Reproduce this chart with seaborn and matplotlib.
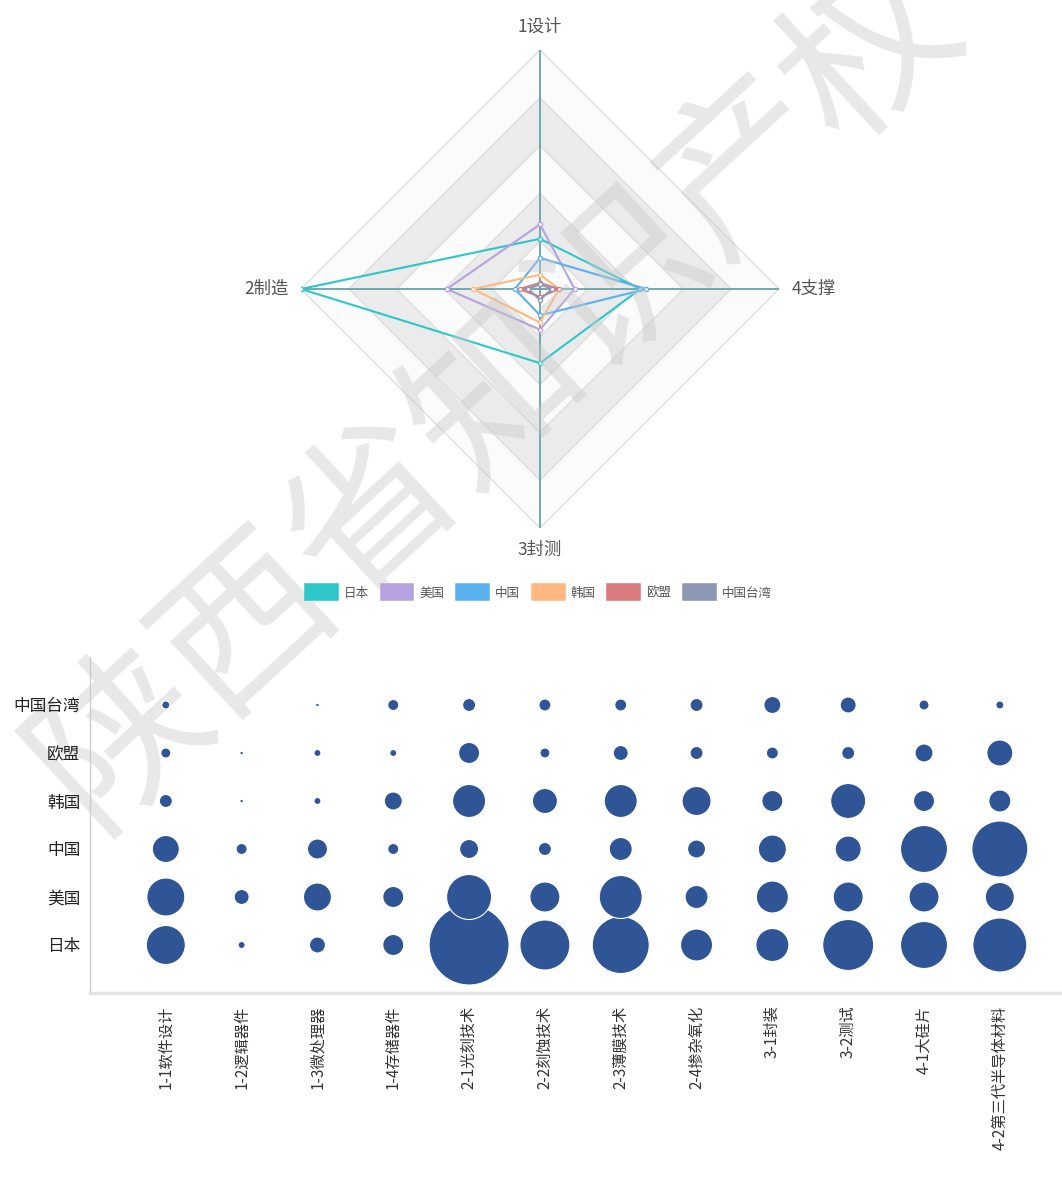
import numpy as np
import pandas as pd
import matplotlib
matplotlib.use("Agg")
import matplotlib.pyplot as plt
from matplotlib.patches import Patch
import seaborn as sns

sns.set_theme(style="white")
plt.rcParams['font.family'] = ['Noto Sans CJK SC', 'DejaVu Sans']

# 雷达图数据 (1设计, 2制造, 3封测, 4支撑)
dims = ["1设计", "2制造", "3封测", "4支撑"]
regions = ["日本", "美国", "中国", "韩国", "欧盟", "中国台湾"]
colors = ["#2ec7c9", "#b6a2de", "#5ab1ef", "#ffb980", "#d87a80", "#8d98b3"]
radar_max = 100
jp = [21, 100, 31, 42]
us = [27, 39, 17, 14.5]
cn = [13, 10.5, 11, 44.5]
kr = [6, 28, 14, 8]
eu = [2.5, 8.5, 3.3, 8]
tw = [2, 5, 4.5, 5]
radar_rows = [jp, us, cn, kr, eu, tw]

# 气泡图数据 (气泡直径)
techs = ["1-1软件设计", "1-2逻辑器件", "1-3微处理器", "1-4存储器件", "2-1光刻技术", "2-2刻蚀技术",
         "2-3薄膜技术", "2-4掺杂氧化", "3-1封装", "3-2测试", "4-1大硅片", "4-2第三代半导体材料"]
jp_b = [39, 7, 16, 21, 80, 50, 57, 32, 33, 51, 47, 54]
us_b = [38, 15, 28, 21, 45, 30, 43, 23, 32, 30, 30, 29]
cn_b = [27, 11, 20, 11, 19, 13, 23, 18, 28, 26, 47, 56]
kr_b = [13, 3.5, 7, 18, 33, 25, 33, 29, 21, 35, 21, 22]
eu_b = [10, 3.5, 7, 7, 21, 10, 15, 13, 12, 13, 18, 26]
tw_b = [8, 0, 3.5, 11, 13, 12, 12, 13, 17, 16, 10, 8]
bubble_rows = [jp_b, us_b, cn_b, kr_b, eu_b, tw_b]

fig = plt.figure(figsize=(10.62, 11.78), dpi=100)

# ---- 雷达图 ----
ax = fig.add_axes([301/1062, 1-528/1178, 478/1062, 478/1178], projection='polar')
ax.set_theta_offset(np.pi/2)
angles = np.linspace(0, 2*np.pi, len(dims), endpoint=False)
ang_c = np.append(angles, angles[0])

levels = [100, 80, 60, 40, 20]
band_col = ['#fbfbfb', '#ebebeb', '#fbfbfb', '#ebebeb', '#fbfbfb']
for lev, bc in zip(levels, band_col):
    ax.fill(ang_c, [lev]*5, color=bc, zorder=1, lw=0)
    ax.plot(ang_c, [lev]*5, color='#dcdcdc', lw=0.9, zorder=1.5)
for a in angles:
    ax.plot([a, a], [0, radar_max], color='#66a3ab', lw=1.3, zorder=2)

for vals, c in zip(radar_rows, colors):
    v = np.append(vals, vals[0])
    ax.plot(ang_c, v, color=c, lw=1.5, marker='o', ms=3, mfc='white', mec=c, mew=0.9, zorder=3)

ax.set_ylim(0, radar_max)
ax.set_yticks([])
ax.set_xticks([])
ax.grid(False)
ax.spines['polar'].set_visible(False)
ax.set_facecolor('none')

offs = [((0, 10), 'center', 'bottom'), ((-9, 0), 'right', 'center'),
        ((0, -9), 'center', 'top'), ((9, 0), 'left', 'center')]
for a, lab, (xy, ha, va) in zip(angles, dims, offs):
    ax.annotate(lab, xy=(a, radar_max), xytext=xy, textcoords='offset points',
                ha=ha, va=va, fontsize=12.5, color='#555555', annotation_clip=False)

# 图例
handles = [Patch(facecolor=c, edgecolor=c, linewidth=4, joinstyle='round') for c in colors]
fig.legend(handles, regions, loc='center', bbox_to_anchor=(0.508, 1-593/1178), ncol=6,
           frameon=False, fontsize=9, handlelength=2.3, handleheight=1.05,
           handletextpad=0.65, columnspacing=1.1, labelcolor='#555555')

# 水印
fig.text(497/1062, 1-392/1178, "陕西省知识产权", rotation=42.7, fontsize=122,
         color='#c8c8c8', alpha=0.42, ha='center', va='center', zorder=1,
         fontweight='light')

# ---- 气泡图 ----
recs = []
for yi, (name, vals) in enumerate(zip(regions, bubble_rows)):
    for xi, d in enumerate(vals):
        if d > 0:
            recs.append({'xi': xi, 'yi': yi, 'region': name, 'tech': techs[xi], 'd': d})
df = pd.DataFrame(recs)
df['area'] = (df['d'] * 0.72) ** 2

bx = fig.add_axes([90/1062, 1-993/1178, 972/1062, 336/1178])
bx.set_zorder(2)
sns.scatterplot(data=df, x='xi', y='yi', size='area', sizes=(df['area'].min(), df['area'].max()),
                color='#2f5596', edgecolor='white', linewidth=0.8, legend=False, ax=bx, zorder=3)
bx.set_xlim(-1, 11.82)
bx.set_ylim(-1, 6)
bx.set_xticks(range(len(techs)))
bx.set_xticklabels(techs, rotation=90, fontsize=11, color='#333333')
bx.set_yticks(range(len(regions)))
bx.set_yticklabels(regions, fontsize=12, color='#222222')
bx.tick_params(axis='both', length=0)
bx.tick_params(axis='x', pad=9)
bx.tick_params(axis='y', pad=7)
bx.set_xlabel('')
bx.set_ylabel('')
bx.set_facecolor('none')
for s in ['top', 'right']:
    bx.spines[s].set_visible(False)
bx.spines['left'].set_color('#cccccc')
bx.spines['left'].set_linewidth(1)
bx.spines['bottom'].set_color('#e3e3e3')
bx.spines['bottom'].set_linewidth(2.5)

fig.savefig('out.png', dpi=100)
